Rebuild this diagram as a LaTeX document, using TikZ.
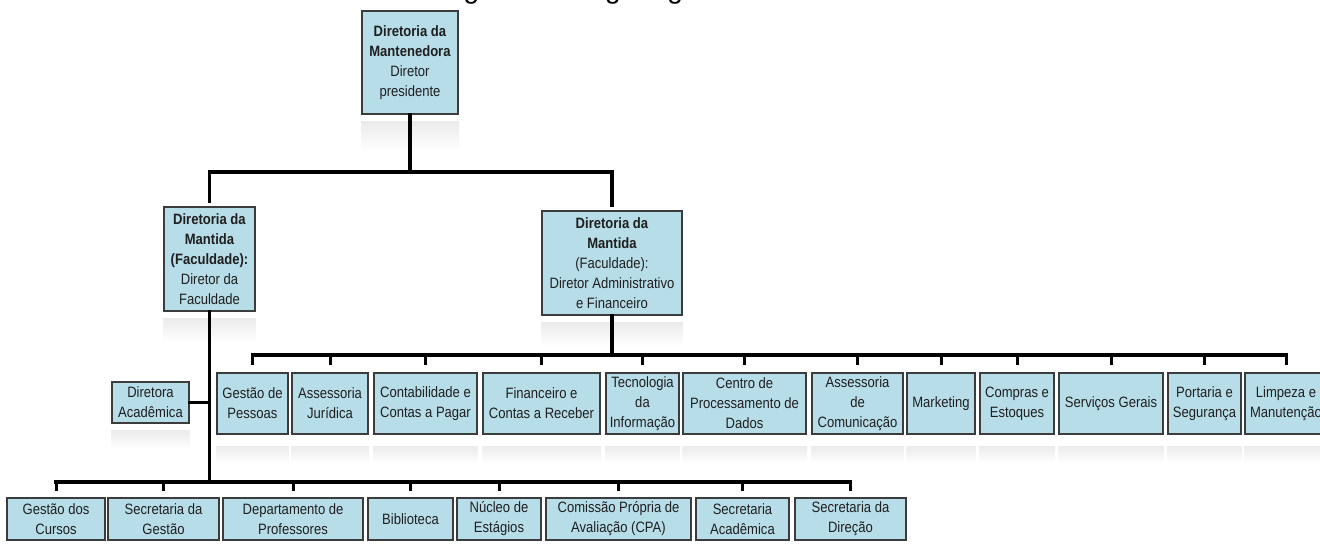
\documentclass[tikz,border=0pt]{standalone}
\usepackage{fontspec}
\setmainfont{Liberation Sans}[FakeStretch=0.87]
\newfontfamily\titlefont{Liberation Sans}
\usetikzlibrary{calc}
\definecolor{boxfill}{HTML}{B7DDE8}
\definecolor{boxline}{HTML}{3C3C3C}
\tikzset{
  orgbox/.style={draw=boxline, line width=2pt, fill=boxfill, inner sep=0pt,
    align=center, text=black!88, font=\fontsize{15}{20}\selectfont},
  link/.style={line width=3.5pt, line cap=rect, line join=miter, draw=black},
  drop/.style={line width=3pt, draw=black},
  mirror/.style={top color=black!8, bottom color=white, draw=none}
}
% box: name, centre x, centre y, width, height, text
\newcommand\orgnode[6]{\node[orgbox, minimum width=#4pt, minimum height=#5pt] (#1) at (#2,#3) {#6};}
% faded reflection under a box
\newcommand\refl[3]{\shade[mirror] ([yshift=-#2pt]#1.south west) rectangle ([yshift=-#3pt]#1.south east);}
\begin{document}
\begin{tikzpicture}[x=1pt, y=-1pt]
\useasboundingbox (0,0) rectangle (1320,544);
\clip (0,0) rectangle (1320,544);

% heading, cut by the top edge
\node[anchor=base west, inner sep=0pt, font=\titlefont\fontsize{28}{28}\selectfont] (title) at (440,-2) {Figura 1 – Organograma da IES};

% top level
\orgnode{top}{410}{62.5}{96}{103}{\textbf{Diretoria da}\\\textbf{Mantenedora}\\Diretor\\presidente}
\refl{top}{6}{36}

% second level
\orgnode{fac}{209.5}{259}{91}{104}{\textbf{Diretoria da}\\\textbf{Mantida}\\\textbf{(Faculdade):}\\Diretor da\\Faculdade}
\orgnode{adm}{612}{263}{140}{104}{\textbf{Diretoria da}\\\textbf{Mantida}\\(Faculdade):\\Diretor Administrativo\\e Financeiro}
\refl{fac}{6}{30}
\refl{adm}{6}{30}

% academic board
\orgnode{acad}{150.5}{402.5}{77}{41}{Diretora\\Acadêmica}
\refl{acad}{6}{24}

% administrative units
\orgnode{gp}{252.5}{403.5}{71}{61}{Gestão de\\Pessoas}
\orgnode{aj}{330}{403.5}{76}{61}{Assessoria\\Jurídica}
\orgnode{cp}{425.5}{403.5}{103}{61}{Contabilidade e\\Contas a Pagar}
\orgnode{fr}{541.5}{403.5}{117}{61}{Financeiro e\\Contas a Receber}
\orgnode{ti}{642.5}{403.5}{73}{61}{Tecnologia\\da\\Informação}
\orgnode{cpd}{744.5}{403.5}{123}{61}{Centro de\\Processamento de\\Dados}
\orgnode{ac}{857.5}{403.5}{91}{61}{Assessoria\\de\\Comunicação}
\orgnode{mk}{941}{403.5}{68}{61}{Marketing}
\orgnode{ce}{1017}{403.5}{74}{61}{Compras e\\Estoques}
\orgnode{sg}{1111}{403.5}{104}{61}{Serviços Gerais}
\orgnode{ps}{1204.5}{403.5}{73}{61}{Portaria e\\Segurança}
\orgnode{lm}{1286}{403.5}{82}{61}{Limpeza e\\Manutenção}
\foreach \n in {gp,aj,cp,fr,ti,cpd,ac,mk,ce,sg,ps,lm}{\refl{\n}{11}{28}}

% academic units
\orgnode{gc}{56}{519}{98}{42}{Gestão dos\\Cursos}
\orgnode{sgst}{163.5}{519}{111}{42}{Secretaria da\\Gestão}
\orgnode{dp}{293}{519}{140}{42}{Departamento de\\Professores}
\orgnode{bib}{410.5}{519}{85}{42}{Biblioteca}
\orgnode{ne}{499}{519}{84}{42}{Núcleo de\\Estágios}
\orgnode{cpa}{618.5}{519}{145}{42}{Comissão Própria de\\Avaliação (CPA)}
\orgnode{sa}{742.5}{519}{93}{42}{Secretaria\\Acadêmica}
\orgnode{sd}{850.5}{519}{111}{42}{Secretaria da\\Direção}

% bus lines
\coordinate (busA) at (410,172);
\coordinate (busB) at (612,355);
\coordinate (busC) at (209.5,482);

\draw[link] (top.south) -- (top.south |- busA);
\draw[link] ([yshift=5pt]fac.north) -- (fac.north |- busA) -- (adm.north |- busA) -- ([yshift=5pt]adm.north);

\draw[link] (adm.south) -- (adm.south |- busB);
\draw[link] (gp.north |- busB) -- (lm.north |- busB);
\foreach \n in {gp,aj,cp,fr,ti,cpd,ac,mk,ce,sg,ps,lm}{\draw[drop] (\n.north |- busB) -- ([yshift=7pt]\n.north);}

\draw[link] (fac.south) -- (fac.south |- busC);
\draw[link] (acad.east) -- (acad.east -| fac.south);
\draw[link] (gc.north |- busC) -- (sd.north |- busC);
\foreach \n in {gc,sgst,dp,bib,ne,cpa,sa,sd}{\draw[drop] (\n.north |- busC) -- ([yshift=6pt]\n.north);}
\end{tikzpicture}
\end{document}
